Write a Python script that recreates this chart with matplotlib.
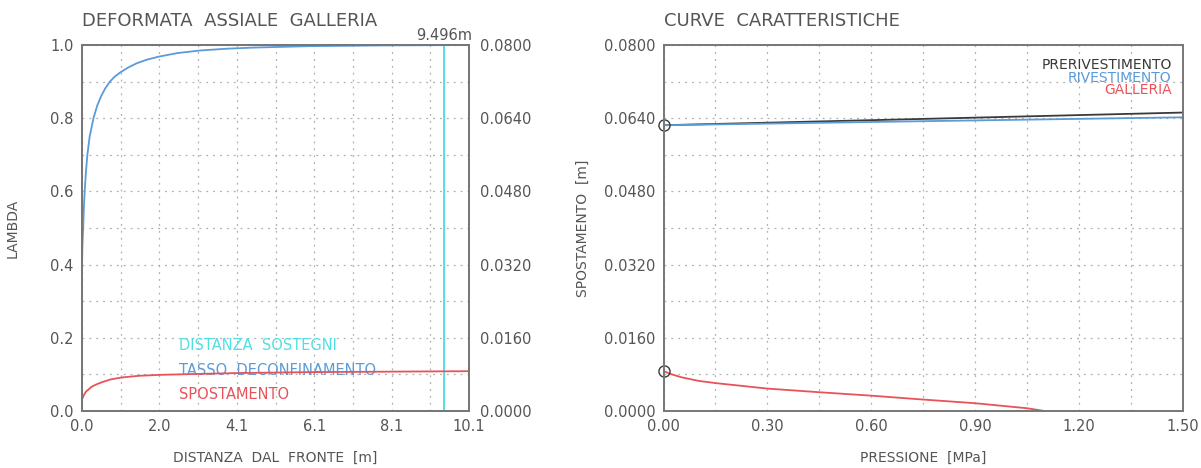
import numpy as np
import matplotlib
matplotlib.use("Agg")
import matplotlib.pyplot as plt
from matplotlib.ticker import MultipleLocator, FormatStrFormatter

# Deformata assiale: distanza dal fronte [m], lambda, spostamento [m]
dist_lambda = [0, 0.01, 0.03, 0.05, 0.07, 0.10, 0.14, 0.20, 0.30, 0.40, 0.50, 0.60, 0.73, 0.85,
               1.0, 1.2, 1.43, 1.7, 2.0, 2.5, 3.09, 3.8, 4.5, 6.0, 8.0, 10.14]
lambda_vals = [0.40, 0.45, 0.50, 0.56, 0.60, 0.65, 0.70, 0.75, 0.80, 0.835, 0.86, 0.88, 0.90, 0.913,
               0.925, 0.938, 0.95, 0.96, 0.968, 0.978, 0.985, 0.99, 0.993, 0.997, 0.999, 1.0]
dist_spost = [0, 0.05, 0.1, 0.25, 0.4, 0.56, 0.75, 1.02, 1.25, 1.5, 2.04, 3.0, 4.1, 6.0, 8.0, 10.14]
spost_vals = [0.00256, 0.0035, 0.0042, 0.0053, 0.0059, 0.0064, 0.0069, 0.0073, 0.0075, 0.0077,
              0.0079, 0.0081, 0.0083, 0.0085, 0.0086, 0.0087]
dist_sostegni = 9.496
x_max = 10.14

# Curve caratteristiche: pressione [MPa], spostamento [m]
p_galleria = [0, 0.02, 0.05, 0.10, 0.15, 0.30, 0.45, 0.60, 0.75, 0.90, 1.05, 1.10]
u_galleria = [0.00873, 0.0081, 0.0074, 0.0066, 0.0061, 0.0049, 0.0041, 0.00335, 0.0025, 0.0017, 0.0006, 0.0]
p_preriv = [0, 0.75, 1.5]
u_preriv = [0.06247, 0.06385, 0.06524]
p_riv = [0, 0.75, 1.5]
u_riv = [0.06247, 0.06335, 0.0642]

TXT = "#555555"
SPINE = "#777777"
BLUE = "#5a9bd8"
RED = "#e8535a"
CYAN = "#4fe0e6"
DARK = "#3a3a3a"

plt.rcParams["font.family"] = "DejaVu Sans"
plt.rcParams["text.color"] = TXT
plt.rcParams["axes.labelcolor"] = TXT
plt.rcParams["xtick.color"] = TXT
plt.rcParams["ytick.color"] = TXT

fig = plt.figure(figsize=(12.01, 4.68), dpi=100)
ax1 = fig.add_axes([0.0683, 0.1218, 0.3222, 0.782])
ax2 = fig.add_axes([0.5525, 0.1218, 0.4325, 0.782])


def style(ax):
    for s in ax.spines.values():
        s.set_color(SPINE)
        s.set_linewidth(1.4)
    ax.tick_params(which="both", length=0, labelsize=10.5, pad=6)
    ax.grid(True, which="both", linestyle=(0, (1.5, 4)), color="#b0b0b0", linewidth=0.9)


# --- grafico di sinistra ---
style(ax1)
ax1.set_xlim(0, x_max)
ax1.set_ylim(0, 1.0)
ax1.set_xticks(np.linspace(0, x_max, 6))
ax1.xaxis.set_major_formatter(FormatStrFormatter("%.1f"))
ax1.set_xticks(np.linspace(0, x_max, 11), minor=True)
ax1.yaxis.set_major_locator(MultipleLocator(0.2))
ax1.yaxis.set_minor_locator(MultipleLocator(0.1))
ax1.yaxis.set_major_formatter(FormatStrFormatter("%.1f"))
ax1.plot(dist_lambda, lambda_vals, color=BLUE, lw=1.3)
ax1.axvline(dist_sostegni, color=CYAN, lw=1.4)
ax1.text(dist_sostegni, 1.005, f"{dist_sostegni:.3f}m", ha="center", va="bottom", fontsize=10.5)
ax1.set_xlabel("DISTANZA  DAL  FRONTE  [m]", fontsize=10, labelpad=12)
ax1.set_ylabel("LAMBDA", fontsize=10, labelpad=22)
ax1.set_title("DEFORMATA  ASSIALE  GALLERIA", loc="left", fontsize=13, pad=14, color=TXT)
ax1.text(2.55, 0.18, "DISTANZA  SOSTEGNI", color=CYAN, fontsize=10.5, va="center")
ax1.text(2.55, 0.112, "TASSO  DECONFINAMENTO", color=BLUE, fontsize=10.5, va="center")
ax1.text(2.55, 0.046, "SPOSTAMENTO", color=RED, fontsize=10.5, va="center")

ax1b = ax1.twinx()
ax1b.set_ylim(0, 0.08)
ax1b.yaxis.set_major_locator(MultipleLocator(0.016))
ax1b.yaxis.set_major_formatter(FormatStrFormatter("%.4f"))
ax1b.tick_params(length=0, labelsize=10.5, pad=8, colors=TXT)
for s in ax1b.spines.values():
    s.set_color(SPINE)
    s.set_linewidth(1.4)
ax1b.plot(dist_spost, spost_vals, color=RED, lw=1.3)

# --- grafico di destra ---
style(ax2)
ax2.set_xlim(0, 1.5)
ax2.set_ylim(0, 0.08)
ax2.xaxis.set_major_locator(MultipleLocator(0.3))
ax2.xaxis.set_minor_locator(MultipleLocator(0.15))
ax2.xaxis.set_major_formatter(FormatStrFormatter("%.2f"))
ax2.yaxis.set_major_locator(MultipleLocator(0.016))
ax2.yaxis.set_minor_locator(MultipleLocator(0.008))
ax2.yaxis.set_major_formatter(FormatStrFormatter("%.4f"))
ax2.plot(p_preriv, u_preriv, color=DARK, lw=1.3)
ax2.plot(p_riv, u_riv, color=BLUE, lw=1.3)
ax2.plot(p_galleria, u_galleria, color=RED, lw=1.3)
ax2.plot([p_preriv[0], p_galleria[0]], [u_preriv[0], u_galleria[0]], "o", mfc="none",
         mec=DARK, ms=8, mew=1.0, clip_on=False)
ax2.set_xlabel("PRESSIONE  [MPa]", fontsize=10, labelpad=12)
ax2.set_ylabel("SPOSTAMENTO  [m]", fontsize=10, labelpad=10)
ax2.set_title("CURVE  CARATTERISTICHE", loc="left", fontsize=13, pad=14, color=TXT)
ax2.text(1.467, 0.0757, "PRERIVESTIMENTO", color=DARK, fontsize=10, ha="right", va="center")
ax2.text(1.467, 0.0729, "RIVESTIMENTO", color=BLUE, fontsize=10, ha="right", va="center")
ax2.text(1.467, 0.0701, "GALLERIA", color=RED, fontsize=10, ha="right", va="center")

fig.savefig("out.png", dpi=100, facecolor="white")
